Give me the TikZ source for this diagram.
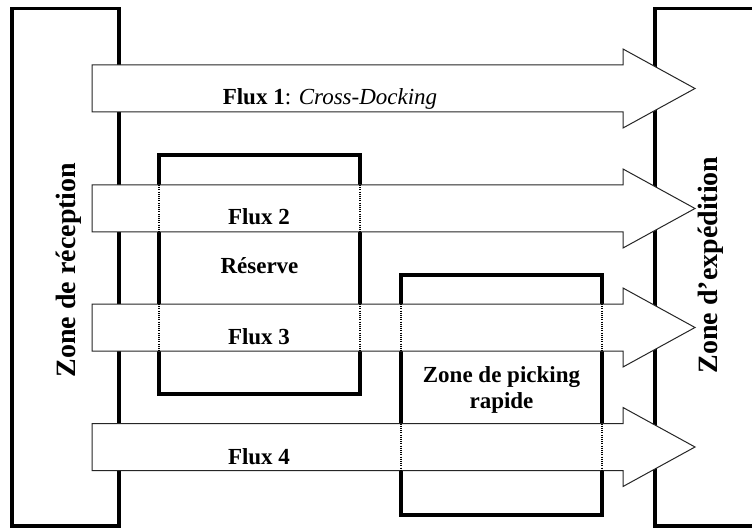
\documentclass[tikz,border=0pt]{standalone}
\usepackage{fontspec}
\setmainfont{Liberation Serif}
\tikzset{
  zonebox/.style={line width=3.2pt},
  fluxarrow/.style={fill=white, draw=black!85, line width=1pt},
  crossing/.style={dash pattern=on 1pt off 1.2pt, line width=1.1pt},
  fluxlabel/.style={anchor=base, font=\fontsize{23}{26}\selectfont\bfseries},
  zonelabel/.style={rotate=90, font=\fontsize{28}{30}\selectfont\bfseries}
}
\begin{document}
\begin{tikzpicture}[x=1pt, y=-1pt]
\useasboundingbox [fill=white] (0,0) rectangle (752,529);

\draw [zonebox] (12,8.5) rectangle (119,526);
\draw [zonebox] (770,8.5) -- (655,8.5) -- (655,526) -- (770,526);
\draw [zonebox] (159,155) rectangle (360,394);
\draw [zonebox] (401,275) rectangle (602,515);

\draw [fluxarrow] (92,65) -- (623,65) -- (623,49) -- (695,88.5) -- (623,128) -- (623,112) -- (92,112) -- cycle;
\draw [fluxarrow] (92,185) -- (623,185) -- (623,169) -- (695,208.5) -- (623,248) -- (623,232) -- (92,232) -- cycle;
\draw [fluxarrow] (92,304) -- (623,304) -- (623,288) -- (695,327.5) -- (623,367) -- (623,351) -- (92,351) -- cycle;
\draw [fluxarrow] (92,423.5) -- (623,423.5) -- (623,407.5) -- (695,447) -- (623,486.5) -- (623,470.5) -- (92,470.5) -- cycle;

\draw [crossing] (159,185) -- (159,232);
\draw [crossing] (360,185) -- (360,232);
\draw [crossing] (159,304) -- (159,351);
\draw [crossing] (360,304) -- (360,351);
\draw [crossing] (401,304) -- (401,351);
\draw [crossing] (602,304) -- (602,351);
\draw [crossing] (401,423.5) -- (401,470.5);
\draw [crossing] (602,423.5) -- (602,470.5);

\node [fluxlabel] (flux1) at (330,105) {Flux 1\mdseries: \itshape Cross-Docking};
\node [fluxlabel] (flux2) at (259,225) {Flux 2};
\node [fluxlabel] (flux3) at (259,344) {Flux 3};
\node [fluxlabel] (flux4) at (259,464) {Flux 4};
\node [fluxlabel] (reserve) at (259.5,274) {Réserve};
\node [fluxlabel, align=center] (picking) at (501.5,408) {Zone de picking\\rapide};
\node [zonelabel] (reception) at (69,270) {Zone de réception};
\node [zonelabel] (expedition) at (711,265) {Zone d’expédition};
\end{tikzpicture}
\end{document}
